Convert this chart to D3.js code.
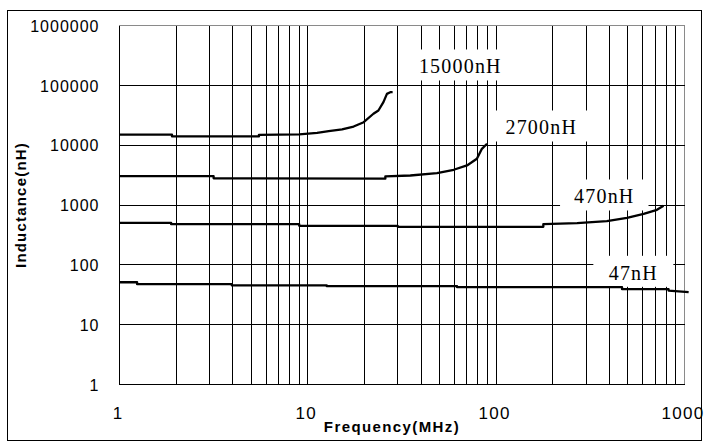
<!DOCTYPE html>
<html>
<head>
<meta charset="utf-8">
<script src="https://cdn.jsdelivr.net/npm/d3@7/dist/d3.min.js"></script>
<style>
    body { margin: 0; background: #fff; }
    svg { display: block; }
</style>
</head>
<body>
<div id="chart"></div>
<script>
// axis ticks
var freqTicks = [1, 10, 100, 1000];
var indTicks = [1, 10, 100, 1000, 10000, 100000, 1000000];

// curves (frequency MHz / inductance nH)
var curveNames = ["15000nH", "2700nH", "470nH", "47nH"];
var freq15000 = [1, 1.9, 1.9, 5.5, 5.5, 9, 11.2, 12.9, 15.2, 17.5, 19.8, 22.3, 23.7, 25.2, 26.3, 27.4, 28.2];
var ind15000 = [15000, 15000, 14000, 14000, 14900, 15200, 16100, 17100, 18300, 20500, 24200, 33500, 38000, 52300, 72000, 76700, 77000];
var freq2700 = [1, 3.16, 3.16, 25.8, 25.8, 35, 48.5, 59.5, 70, 79, 84, 89.4];
var ind2700 = [3030, 3030, 2800, 2750, 3000, 3110, 3400, 3880, 4580, 5920, 8690, 10550];
var freq470 = [1, 1.88, 1.88, 9, 9, 30, 30, 178, 178, 269, 387, 495, 607, 714, 774];
var ind470 = [504, 504, 478, 478, 449, 449, 432, 432, 478, 497, 536, 611, 713, 832, 970];
var freq47 = [1, 1.24, 1.24, 3.95, 3.95, 12.6, 12.6, 62, 62, 466, 466, 823, 823, 1052];
var ind47 = [51.2, 51.2, 47.5, 47.5, 45.2, 45.2, 44, 44, 42.3, 42.3, 39.2, 39.2, 37.2, 35];

// where each curve name sits (text baseline centre)
var labelFreq = [64.5, 173.6, 375, 535];
var labelInd = [157800, 15080, 1060, 56.2];

var InductanceChart = {
    draw: function(selector) {
        var cfg = {
            w: 709,
            h: 443,
            mTop: 25.5,
            mRight: 24.5,
            mBottom: 58.5,
            mLeft: 119.5
        };
        var width = cfg.w - (cfg.mLeft + cfg.mRight),
            height = cfg.h - (cfg.mTop + cfg.mBottom);

        var x = d3.scaleLog().domain([1, 1000]).range([0, width]);
        var y = d3.scaleLog().domain([1, 1000000]).range([height, 0]);

        var root = d3.select(selector).append("svg")
            .attr("width", cfg.w)
            .attr("height", cfg.h);

        // outer frame
        root.append("rect")
            .attr("x", 7.5).attr("y", 10.5)
            .attr("width", 694).attr("height", 430)
            .attr("fill", "none")
            .attr("stroke", "#000")
            .attr("stroke-width", 1);

        var svg = root.append("g")
            .attr("transform", "translate(" + cfg.mLeft + "," + cfg.mTop + ")");

        // plot border (grey top/right)
        svg.append("rect")
            .attr("width", width).attr("height", height)
            .attr("fill", "none")
            .attr("stroke", "#8a8a8a")
            .attr("shape-rendering", "crispEdges");

        // grid
        svg.selectAll(".vgrid")
            .data(x.ticks().filter(function(d) { return d > 1 && d < 1000; }))
            .enter().append("line")
            .attr("class", "vgrid")
            .attr("x1", function(d) { return Math.round(x(d)); })
            .attr("x2", function(d) { return Math.round(x(d)); })
            .attr("y1", 0).attr("y2", height)
            .attr("stroke", "#000")
            .attr("shape-rendering", "crispEdges");

        svg.selectAll(".hgrid")
            .data(indTicks.filter(function(d) { return d > 1 && d < 1000000; }))
            .enter().append("line")
            .attr("class", "hgrid")
            .attr("x1", 0).attr("x2", width)
            .attr("y1", function(d) { return Math.round(y(d)); })
            .attr("y2", function(d) { return Math.round(y(d)); })
            .attr("stroke", "#000")
            .attr("shape-rendering", "crispEdges");

        // left + bottom axis lines
        svg.append("path")
            .attr("d", "M0,0V" + height + "H" + width)
            .attr("fill", "none")
            .attr("stroke", "#000")
            .attr("shape-rendering", "crispEdges");

        // axes
        var xAxis = d3.axisBottom(x).tickValues(freqTicks).tickFormat(d3.format("d")).tickSize(0);
        var yAxis = d3.axisLeft(y).tickValues(indTicks).tickFormat(d3.format("d")).tickSize(0);

        svg.append("g")
            .attr("transform", "translate(0," + height + ")")
            .classed("xAxis", true)
            .call(customXAxis);

        svg.append("g")
            .classed("yAxis", true)
            .call(customYAxis);

        function customXAxis(g) {
            g.call(xAxis);
            g.select(".domain").remove();
            g.selectAll(".tick text")
                .attr("y", 34).attr("dy", 0).attr("dx", -2)
                .attr("fill", "#000")
                .style("font-family", "'Liberation Sans', Arial, sans-serif")
                .style("font-size", "17px")
                .style("letter-spacing", "1.3px");
        }

        function customYAxis(g) {
            g.call(yAxis);
            g.select(".domain").remove();
            g.selectAll(".tick text")
                .attr("x", -20).attr("dy", "0.36em")
                .attr("fill", "#000")
                .style("font-family", "'Liberation Sans', Arial, sans-serif")
                .style("font-size", "16px")
                .style("letter-spacing", "1px");
        }

        // axis titles
        root.append("text")
            .attr("x", cfg.mLeft + width / 2 - 10)
            .attr("y", 432)
            .attr("text-anchor", "middle")
            .style("font-family", "'Liberation Sans', Arial, sans-serif")
            .style("font-size", "15px")
            .style("font-weight", "bold")
            .style("letter-spacing", "1.4px")
            .text("Frequency(MHz)");

        root.append("text")
            .attr("transform", "translate(26," + (cfg.mTop + height / 2) + ") rotate(-90)")
            .attr("text-anchor", "middle")
            .style("font-family", "'Liberation Sans', Arial, sans-serif")
            .style("font-size", "15px")
            .style("font-weight", "bold")
            .style("letter-spacing", "1.2px")
            .text("Inductance(nH)");

        // curve name labels on white boxes
        var labels = svg.selectAll(".lbl")
            .data(curveNames)
            .enter().append("g")
            .classed("lbl", true)
            .attr("transform", function(d, i) {
                return "translate(" + x(labelFreq[i]) + "," + y(labelInd[i]) + ")";
            });

        var boxes = labels.append("rect")
            .attr("fill", "#fff");

        labels.append("text")
            .attr("text-anchor", "middle")
            .style("font-family", "'Liberation Serif', 'Times New Roman', serif")
            .style("font-size", "20px")
            .style("letter-spacing", "1.2px")
            .text(function(d) { return d; });

        labels.each(function() {
            var g = d3.select(this);
            var bw = g.select("text").node().getComputedTextLength();
            var w = Math.max(80, bw + 28);
            g.select("rect")
                .attr("x", -w / 2).attr("y", -24)
                .attr("width", w).attr("height", 31);
        });

        // curves
        var series = [
            [freq15000, ind15000],
            [freq2700, ind2700],
            [freq470, ind470],
            [freq47, ind47]
        ];

        var valueline = d3.line()
            .x(function(d) { return x(d[0]); })
            .y(function(d) { return y(d[1]); });

        svg.selectAll(".curve")
            .data(series)
            .enter().append("path")
            .attr("class", "curve")
            .attr("d", function(s) {
                return valueline(s[0].map(function(f, i) { return [f, s[1][i]]; }));
            })
            .attr("fill", "none")
            .attr("stroke", "#000")
            .attr("stroke-width", 2.3)
            .attr("stroke-linejoin", "round");
    }
};

InductanceChart.draw("#chart");
</script>
</body>
</html>
